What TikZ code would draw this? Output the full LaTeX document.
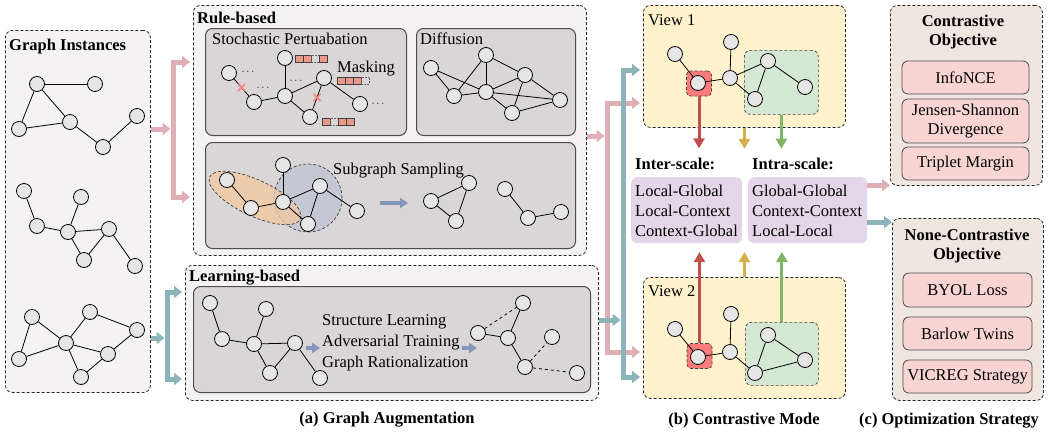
\documentclass[tikz,border=0pt]{standalone}
\usepackage{fontspec}
\setmainfont{Liberation Serif}
\usetikzlibrary{arrows.meta}

\definecolor{instfill}{HTML}{F4F2F3}
\definecolor{boxgray}{HTML}{DAD6D7}
\definecolor{nodefill}{HTML}{E6E6E6}
\definecolor{pinkc}{HTML}{E0AFB5}
\definecolor{tealc}{HTML}{8DB4BB}
\definecolor{steelc}{HTML}{8497BA}
\definecolor{viewfill}{HTML}{FFF2CC}
\definecolor{redsq}{HTML}{FF7C7C}
\definecolor{greenfill}{HTML}{D5E8D4}
\definecolor{lilac}{HTML}{E4D5E8}
\definecolor{optfill}{HTML}{F0E6E0}
\definecolor{itemfill}{HTML}{F8D5D3}
\definecolor{redarr}{HTML}{C0504D}
\definecolor{yelarr}{HTML}{D6AE48}
\definecolor{grnarr}{HTML}{82B366}
\definecolor{maskc}{HTML}{E9998A}
\definecolor{crossc}{HTML}{F47F7F}
\definecolor{orangefill}{HTML}{F3C9A0}
\definecolor{bluefill}{HTML}{C4C6D4}

\begin{document}
\begin{tikzpicture}[x=1pt,y=-1pt,font=\fontsize{16.5}{19}\selectfont,
    gn/.style={circle,draw,fill=nodefill,minimum size=15pt,inner sep=0pt,line width=0.8pt},
    ln/.style={line width=0.8pt},
    dsh/.style={draw=black!75,dash pattern=on 3pt off 2pt,line width=0.7pt},
    dbox/.style={draw=black!85,dash pattern=on 3pt off 2pt,line width=0.8pt,rounded corners=7pt,anchor=north west,inner sep=0pt},
    gbox/.style={draw=black!70,fill=boxgray,line width=1pt,rounded corners=7pt,anchor=north west,inner sep=0pt},
    itembox/.style={draw=black!70,fill=itemfill,line width=0.8pt,rounded corners=6pt,inner sep=0pt,align=center,font=\fontsize{16.5}{18.5}\selectfont},
    pinkln/.style={draw=pinkc,line width=5pt},
    tealln/.style={draw=tealc,line width=5pt},
    endtip/.style={-{Triangle[width=12pt,length=8pt]}},
    bothtips/.style={{Triangle[width=12pt,length=8pt]}-{Triangle[width=12pt,length=8pt]}},
    steelarr/.style={draw=steelc,line width=4pt,-{Triangle[width=10pt,length=8pt]}},
    colarr/.style={line width=3pt,-{Triangle[width=11pt,length=10pt]}},
    ttl/.style={font=\fontsize{16.5}{19}\selectfont\bfseries,anchor=base west,inner sep=0pt},
    txt/.style={anchor=base west,inner sep=0pt},
    mk/.style={draw=black!75,fill=maskc,line width=0.6pt},
    mke/.style={draw=black!60,densely dotted,line width=0.6pt},
    xmark/.style={draw=crossc,line width=1.6pt},
    dots/.style={font=\fontsize{11}{11}\selectfont,inner sep=0pt},
  ]
  \useasboundingbox (0,0) rectangle (1059,434);

  \node[dbox,fill=instfill,minimum width=145pt,minimum height=362pt] (inst) at (5,30) {};
  \node[dbox,fill=instfill,minimum width=393pt,minimum height=250pt] (rule) at (193,5) {};
  \node[dbox,fill=instfill,minimum width=413pt,minimum height=135pt] (learn) at (185,265) {};
  \node[gbox,minimum width=201pt,minimum height=107pt] (stoch) at (205,28) {};
  \node[gbox,minimum width=159pt,minimum height=107pt] (diff) at (416,28) {};
  \node[gbox,minimum width=370pt,minimum height=106pt] (subg) at (205,142) {};
  \node[gbox,minimum width=397pt,minimum height=106pt] (lbox) at (193,286) {};
  \node[dbox,fill=viewfill,minimum width=202pt,minimum height=122pt] (view1) at (643,5) {};
  \node[dbox,fill=viewfill,minimum width=202pt,minimum height=121pt] (view2) at (643,277) {};
  \node[dbox,fill=optfill,minimum width=152pt,minimum height=180pt] (copt) at (890,5) {};
  \node[dbox,fill=optfill,minimum width=151pt,minimum height=182pt] (ncopt) at (892,218) {};
  \node[fill=lilac,rounded corners=6pt,anchor=north west,minimum width=111pt,minimum height=66pt] (inter) at (631,177) {};
  \node[fill=lilac,rounded corners=6pt,anchor=north west,minimum width=119pt,minimum height=66pt] (intra) at (748,177) {};

  \node[ttl] (tinst) at (9,50.5) {Graph Instances};
  \node[ttl] (trule) at (197,23) {Rule-based};
  \node[ttl] (tlearn) at (189,281) {Learning-based};
  \node[txt] (tstoch) at (212,44) {Stochastic Pertuabation};
  \node[txt] (tdiff) at (420,44) {Diffusion};
  \node[txt] (tsubg) at (333,174) {Subgraph Sampling};
  \node[txt] (tmask) at (337,72.5) {Masking};
  \foreach \t [count=\i] in {Structure Learning,Adversarial Training,Graph Rationalization}
    \node[txt] (tl\i) at (322,304.5+21*\i) {\t};
  \node[txt] (tv1) at (648,25) {View 1};
  \node[txt] (tv2) at (648,296) {View 2};
  \node[ttl] (tinter) at (635,169) {Inter-scale:};
  \node[ttl] (tintra) at (752,169) {Intra-scale:};
  \foreach \t [count=\i] in {Local-Global,Local-Context,Context-Global}
    \node[txt] (ia\i) at (635,176+20*\i) {\t};
  \foreach \t [count=\i] in {Global-Global,Context-Context,Local-Local}
    \node[txt] (ib\i) at (752,176+20*\i) {\t};
  \node[align=center,font=\fontsize{16.5}{19}\selectfont\bfseries] (tcopt) at (963,32) {Contrastive\\Objective};
  \node[align=center,font=\fontsize{16.5}{19}\selectfont\bfseries] (tncopt) at (967,246) {None-Contrastive\\Objective};
  \node[itembox,minimum width=127pt,minimum height=33pt] (it1) at (965.5,77.5) {InfoNCE};
  \node[itembox,minimum width=127pt,minimum height=44pt] (it2) at (965.5,121) {Jensen-Shannon\\Divergence};
  \node[itembox,minimum width=127pt,minimum height=33pt] (it3) at (965.5,163.5) {Triplet Margin};
  \node[itembox,minimum width=129pt,minimum height=34pt] (it4) at (967.5,290) {BYOL Loss};
  \node[itembox,minimum width=129pt,minimum height=33pt] (it5) at (967.5,333.5) {Barlow Twins};
  \node[itembox,minimum width=129pt,minimum height=33pt] (it6) at (967.5,376.5) {VICREG Strategy};
  \node[ttl,anchor=base] (cap1) at (387,423) {(a) Graph Augmentation};
  \node[ttl,anchor=base] (cap2) at (744,424) {(b) Contrastive Mode};
  \node[ttl,anchor=base] (cap3) at (949,424) {(c) Optimization Strategy};

  \foreach \n/\x/\y in {ga1/37/84,ga2/95/84,ga3/19/129,ga4/70/122,ga5/103/147,ga6/137/116,
      gb1/24/191,gb2/37/226,gb3/81/197,gb4/68/232,gb5/109/229,gb6/84/260,gb7/135/266,
      gc1/32/317,gc2/90/312,gc3/137/330,gc4/19/359,gc5/66/343,gc6/108/354,gc7/81/377}
    \node[gn] (\n) at (\x,\y) {};
  \foreach \a/\b in {ga1/ga2,ga1/ga3,ga1/ga4,ga3/ga4,ga4/ga5,ga5/ga6,
      gb1/gb2,gb2/gb4,gb4/gb3,gb4/gb5,gb4/gb6,gb6/gb5,gb5/gb7,
      gc1/gc4,gc1/gc5,gc4/gc5,gc5/gc2,gc2/gc3,gc3/gc6,gc5/gc6,gc5/gc7,gc7/gc6}
    \draw[ln] (\a) -- (\b);

  \foreach \x/\s in {295/mk,303/mk,311/mke,319/mk} \draw[\s] (\x,55) rectangle ++(8,7);
  \foreach \x/\s in {337/mk,345/mk,353/mk,361/mke} \draw[\s] (\x,77) rectangle ++(8,7);
  \foreach \x/\s in {322/mk,330/mke,338/mk,346/mk} \draw[\s] (\x,118) rectangle ++(8,7);
  \foreach \n/\x/\y in {sp1/229/73,sp2/254/102,sp3/285/96,sp4/285/58,sp5/324/78,sp6/310/117,sp7/360/104}
    \node[gn] (\n) at (\x,\y) {};
  \foreach \a/\b in {sp1/sp2,sp2/sp3,sp3/sp4,sp3/sp5,sp3/sp6,sp5/sp6,sp5/sp7}
    \draw[ln] (\a) -- (\b);
  \path (sp1) -- (sp2) coordinate[midway] (xa);
  \path (sp5) -- (sp6) coordinate[midway] (xb);
  \foreach \c in {xa,xb}
    \draw[xmark] ([shift={(-3.5,-3.5)}]\c) -- ([shift={(3.5,3.5)}]\c)
                 ([shift={(-3.5,3.5)}]\c) -- ([shift={(3.5,-3.5)}]\c);
  \foreach \n/\x/\y in {dt1/248/72,dt2/263/88,dt3/296/81,dt4/378/104}
    \node[dots] (\n) at (\x,\y) {$\cdots$};

  \foreach \n/\x/\y in {df1/431/68,df2/486/55,df3/525/75,df4/454/96,df5/486/92,df6/560/100,df7/512/113}
    \node[gn] (\n) at (\x,\y) {};
  \foreach \a/\b in {df1/df4,df1/df5,df4/df5,df4/df2,df2/df5,df2/df3,df5/df3,df5/df6,df5/df7,df3/df7,df3/df6,df7/df6}
    \draw[ln] (\a) -- (\b);

  \draw[dsh,fill=bluefill,fill opacity=0.9] (308,198) circle (34pt);
  \draw[dsh,fill=orangefill,fill opacity=0.75,rotate around={-25:(255,198)}] (255,198) ellipse (50pt and 18pt);
  \foreach \n/\x/\y in {sg1/227/180,sg2/251/208,sg3/283/202,sg4/283/165,sg5/320/186,sg6/308/224,sg7/357/211,
      sa1/431/201,sa2/469/183,sa3/456/221,sb1/505/189,sb2/528/218,sb3/561/212}
    \node[gn] (\n) at (\x,\y) {};
  \foreach \a/\b in {sg1/sg2,sg2/sg3,sg3/sg4,sg3/sg5,sg3/sg6,sg5/sg6,sg5/sg7,
      sa1/sa2,sa1/sa3,sa2/sa3,sb1/sb2,sb2/sb3}
    \draw[ln] (\a) -- (\b);
  \coordinate (sgA) at (380,203);
  \draw[steelarr] (sgA) -- ++(28,0);

  \foreach \n/\x/\y in {lb1/210/303,lb2/266/309,lb3/222/339,lb4/254/344,lb5/295/343,lb6/270/373,lb7/320/378,
      lr1/523/303,lr2/478/333,lr3/508/338,lr4/552/337,lr5/525/367,lr6/577/373}
    \node[gn] (\n) at (\x,\y) {};
  \foreach \a/\b/\s in {lb1/lb3/solid,lb3/lb4/solid,lb4/lb2/solid,lb4/lb5/solid,lb4/lb6/solid,lb6/lb5/solid,lb5/lb7/solid,
      lr2/lr1/dashed,lr3/lr1/solid,lr2/lr3/solid,lr3/lr5/solid,lr5/lr4/dashed,lr5/lr6/dashed}
    \draw[ln,\s] (\a) -- (\b);
  \coordinate (lbA) at (306,348);
  \coordinate (lbB) at (462,348);
  \draw[steelarr] (lbA) -- ++(14,0);
  \draw[steelarr] (lbB) -- ++(15,0);

  \node[dsh,fill=redsq,rounded corners=4pt,minimum size=25pt,inner sep=0pt] (rs1) at (699,83.5) {};
  \node[dsh,fill=redsq,rounded corners=4pt,minimum size=25pt,inner sep=0pt] (rs2) at (699.5,356) {};
  \node[dsh,fill=greenfill,rounded corners=6pt,anchor=north west,minimum width=74pt,minimum height=64pt] (gr1) at (744,50) {};
  \node[dsh,fill=greenfill,rounded corners=6pt,anchor=north west,minimum width=73pt,minimum height=63pt] (gr2) at (745,322) {};
  \foreach \n/\x/\y in {va1/675/54,va2/698/83,va3/730/78,va4/731/42,va5/755/99,va6/768/61,va7/805/87,
      vb1/675/329,vb2/698/357,vb3/730/352,vb4/731/314,vb5/755/373,vb6/768/335,vb7/805/360}
    \node[gn] (\n) at (\x,\y) {};
  \foreach \a/\b in {va1/va2,va2/va3,va3/va4,va3/va5,va3/va6,va6/va5,va6/va7,
      vb1/vb2,vb2/vb3,vb3/vb4,vb3/vb5,vb5/vb6,vb6/vb7,vb5/vb7}
    \draw[ln] (\a) -- (\b);

  \draw[colarr,draw=redarr] (rs1.south) -- ++(0,52);
  \draw[colarr,draw=yelarr] (view1.south) -- ++(0,21);
  \draw[colarr,draw=grnarr] (gr1.south) -- ++(0,34);
  \draw[colarr,draw=redarr] (rs2.north) -- ++(0,-91);
  \draw[colarr,draw=yelarr] (view2.north) -- ++(0,-25);
  \draw[colarr,draw=grnarr] (gr2.north) -- ++(0,-70);

  \coordinate (pkM) at (173,129);
  \coordinate (pkA) at (173,62);
  \coordinate (pkB) at (173,197);
  \draw[pinkln,endtip,shorten >=2.5pt] (inst.east |- pkM) -- (pkM);
  \draw[pinkln,bothtips,shorten <=3pt,shorten >=3pt] (rule.west |- pkA) -- (pkA) -- (pkB) -- (rule.west |- pkB);
  \coordinate (tkM) at (167,338);
  \coordinate (tkA) at (167,292);
  \coordinate (tkB) at (167,379);
  \draw[tealln,endtip,shorten >=2.5pt] (inst.east |- tkM) -- (tkM);
  \draw[tealln,bothtips,shorten <=3pt,shorten >=3pt] (learn.west |- tkA) -- (tkA) -- (tkB) -- (learn.west |- tkB);

  \coordinate (pcM) at (607,136);
  \coordinate (pcA) at (607,103);
  \coordinate (pcB) at (607,352);
  \draw[pinkln,endtip,shorten >=2.5pt] (rule.east |- pcM) -- (pcM);
  \draw[pinkln,bothtips,shorten <=3pt,shorten >=3pt] (view1.west |- pcA) -- (pcA) -- (pcB) -- (view2.west |- pcB);
  \coordinate (tcM) at (623,320);
  \coordinate (tcA) at (623,70);
  \coordinate (tcB) at (623,377);
  \draw[tealln,endtip,shorten >=2.5pt] (learn.east |- tcM) -- (tcM);
  \draw[tealln,bothtips,shorten <=3pt,shorten >=3pt] (view1.west |- tcA) -- (tcA) -- (tcB) -- (view2.west |- tcB);

  \draw[pinkln,endtip] ([yshift=25pt]intra.east) coordinate (pq) -- (copt.west |- pq);
  \draw[tealln,endtip] ([yshift=-12pt]intra.east) coordinate (tq) -- (ncopt.west |- tq);
\end{tikzpicture}
\end{document}
